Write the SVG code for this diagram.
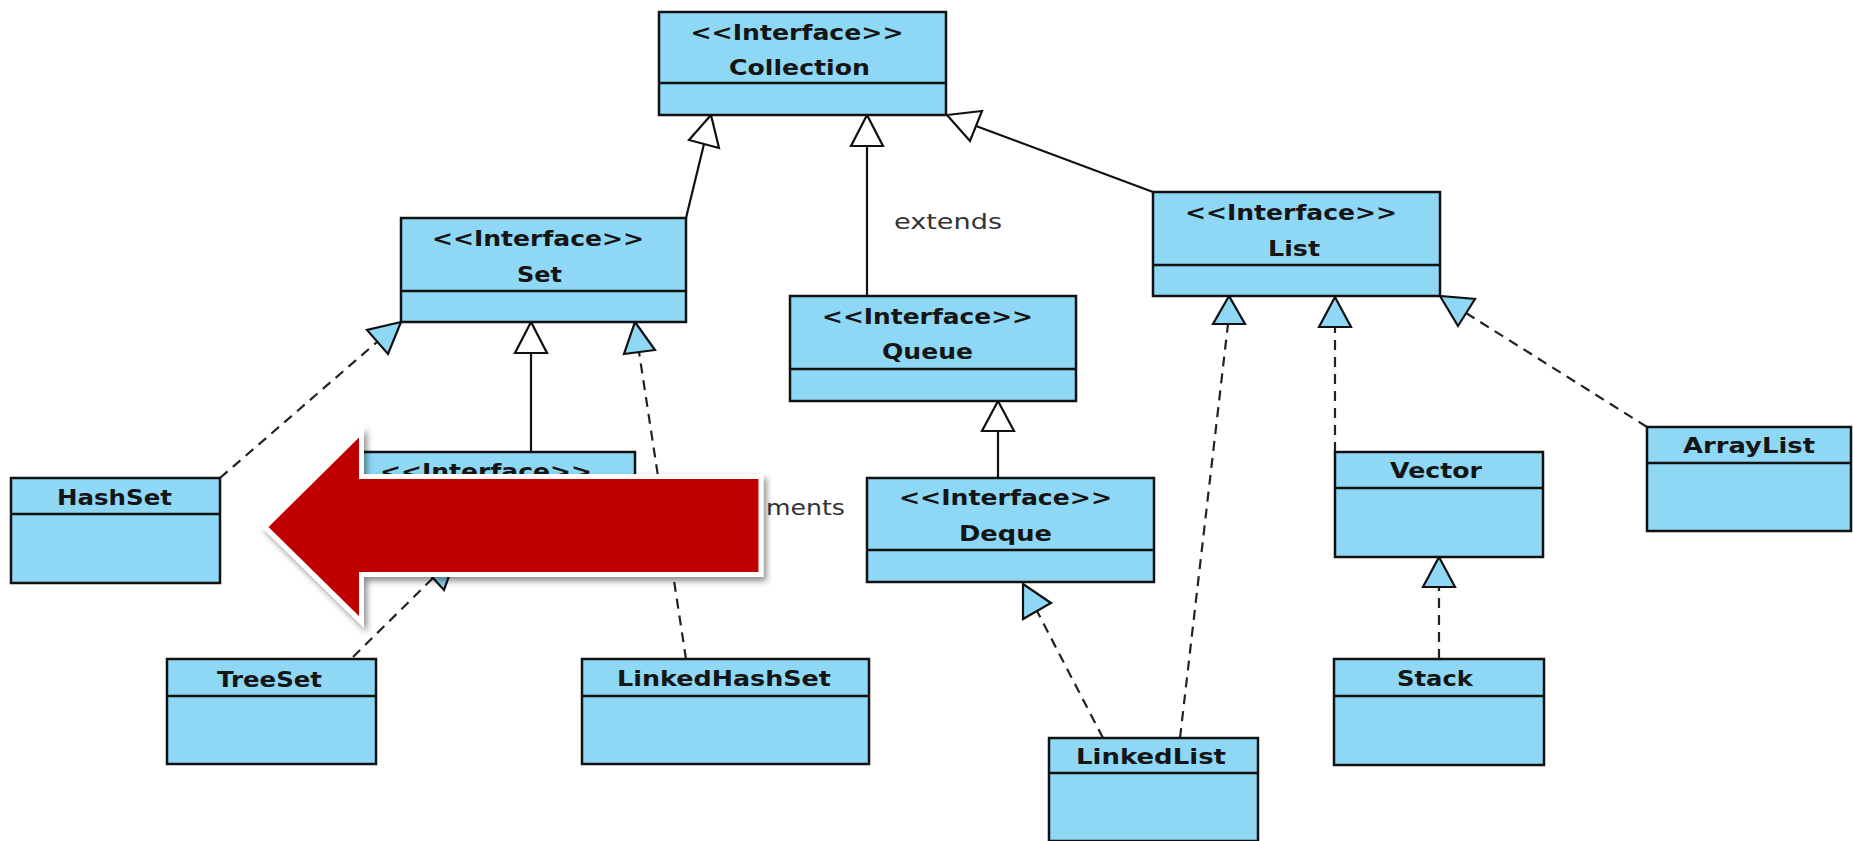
<svg xmlns="http://www.w3.org/2000/svg" width="1853" height="841" viewBox="0 0 1853 841">
<defs>
<style>
.box{fill:#8ED8F5;stroke:#111;stroke-width:2.5}
.div{stroke:#111;stroke-width:2.5}
.t{font-family:"DejaVu Sans","Liberation Sans",sans-serif;font-weight:bold;font-size:22px;fill:#151515;text-anchor:middle}
.lbl{font-family:"DejaVu Sans","Liberation Sans",sans-serif;font-size:22px;fill:#333}
.solid{stroke:#111;stroke-width:2.2;fill:none}
.dash{stroke:#222;stroke-width:2.2;fill:none;stroke-dasharray:10 7}
.hollow{fill:#fff;stroke:#111;stroke-width:2.2;stroke-linejoin:miter}
.filled{fill:#8ED8F5;stroke:#111;stroke-width:2.2;stroke-linejoin:miter}
</style>
<filter id="shadow" x="-10%" y="-20%" width="130%" height="150%">
<feDropShadow dx="3" dy="4" stdDeviation="3" flood-color="#000" flood-opacity="0.45"/>
</filter>
</defs>
<rect width="1853" height="841" fill="#fff"/>

<g id="connectors">
<line class="solid" x1="686" y1="218" x2="704" y2="144"/>
<polygon class="hollow" points="711,115 689,140 719,148"/>
<line class="solid" x1="867" y1="296" x2="867" y2="146"/>
<polygon class="hollow" points="867,115 851,146 883,146"/>
<line class="solid" x1="1153" y1="192" x2="976" y2="126"/>
<polygon class="hollow" points="947,115 970,141 982,111"/>
<line class="dash" x1="220" y1="478" x2="377" y2="342"/>
<polygon class="filled" points="401,322 388,354 367,330"/>
<line class="solid" x1="531" y1="452" x2="531" y2="353"/>
<polygon class="hollow" points="531,322 515,353 547,353"/>
<line class="dash" x1="686" y1="659" x2="639" y2="352"/>
<polygon class="filled" points="635,322 655,350 624,354"/>
<line class="solid" x1="998" y1="478" x2="998" y2="431"/>
<polygon class="hollow" points="998,401 982,431 1014,431"/>
<line class="dash" x1="1103" y1="738" x2="1037" y2="611"/>
<polygon class="filled" points="1023,584 1051,603 1023,619"/>
<line class="dash" x1="1180" y1="738" x2="1228" y2="324"/>
<polygon class="filled" points="1229,296 1213,324 1245,324"/>
<line class="dash" x1="1335" y1="452" x2="1335" y2="327"/>
<polygon class="filled" points="1335,297 1319,327 1351,327"/>
<line class="dash" x1="1647" y1="427" x2="1466" y2="313"/>
<polygon class="filled" points="1440,296 1458,326 1475,299"/>
<line class="dash" x1="1439" y1="659" x2="1439" y2="587"/>
<polygon class="filled" points="1439,557 1423,587 1455,587"/>
<line class="dash" x1="353" y1="657" x2="433" y2="578"/>
<polygon class="filled" points="456,557 444,590 422,566"/>
<text class="lbl" x="894" y="229" textLength="108" lengthAdjust="spacingAndGlyphs">extends</text>
<text class="lbl" x="766" y="515" textLength="79" lengthAdjust="spacingAndGlyphs">ments</text>
</g>

<g id="collection">
<rect class="box" x="659" y="12" width="287" height="103"/>
<line class="div" x1="659" y1="83" x2="946" y2="83"/>
<text class="t" x="797" y="40" textLength="213" lengthAdjust="spacingAndGlyphs">&lt;&lt;Interface&gt;&gt;</text>
<text class="t" x="799.5" y="75" textLength="141" lengthAdjust="spacingAndGlyphs">Collection</text>
</g>

<g id="set">
<rect class="box" x="401" y="218" width="285" height="104"/>
<line class="div" x1="401" y1="291" x2="686" y2="291"/>
<text class="t" x="538" y="246" textLength="212" lengthAdjust="spacingAndGlyphs">&lt;&lt;Interface&gt;&gt;</text>
<text class="t" x="539.5" y="282" textLength="45" lengthAdjust="spacingAndGlyphs">Set</text>
</g>

<g id="queue">
<rect class="box" x="790" y="296" width="286" height="105"/>
<line class="div" x1="790" y1="369" x2="1076" y2="369"/>
<text class="t" x="927.5" y="324" textLength="211" lengthAdjust="spacingAndGlyphs">&lt;&lt;Interface&gt;&gt;</text>
<text class="t" x="927.5" y="359" textLength="91" lengthAdjust="spacingAndGlyphs">Queue</text>
</g>

<g id="list">
<rect class="box" x="1153" y="192" width="287" height="104"/>
<line class="div" x1="1153" y1="265" x2="1440" y2="265"/>
<text class="t" x="1291" y="220" textLength="212" lengthAdjust="spacingAndGlyphs">&lt;&lt;Interface&gt;&gt;</text>
<text class="t" x="1294" y="256" textLength="52" lengthAdjust="spacingAndGlyphs">List</text>
</g>

<g id="deque">
<rect class="box" x="867" y="478" width="287" height="104"/>
<line class="div" x1="867" y1="550" x2="1154" y2="550"/>
<text class="t" x="1005.5" y="505" textLength="213" lengthAdjust="spacingAndGlyphs">&lt;&lt;Interface&gt;&gt;</text>
<text class="t" x="1005.5" y="541" textLength="93" lengthAdjust="spacingAndGlyphs">Deque</text>
</g>

<g id="sortedset">
<rect class="box" x="349" y="452" width="286" height="105"/>
<line class="div" x1="349" y1="524" x2="635" y2="524"/>
<text class="t" x="486" y="479" textLength="212" lengthAdjust="spacingAndGlyphs">&lt;&lt;Interface&gt;&gt;</text>
</g>

<g id="hashset">
<rect class="box" x="11" y="478" width="209" height="105"/>
<line class="div" x1="11" y1="514" x2="220" y2="514"/>
<text class="t" x="114.5" y="505" textLength="115" lengthAdjust="spacingAndGlyphs">HashSet</text>
</g>

<g id="treeset">
<rect class="box" x="167" y="659" width="209" height="105"/>
<line class="div" x1="167" y1="696" x2="376" y2="696"/>
<text class="t" x="269.5" y="687" textLength="105" lengthAdjust="spacingAndGlyphs">TreeSet</text>
</g>

<g id="linkedhashset">
<rect class="box" x="582" y="659" width="287" height="105"/>
<line class="div" x1="582" y1="696" x2="869" y2="696"/>
<text class="t" x="724" y="686" textLength="214" lengthAdjust="spacingAndGlyphs">LinkedHashSet</text>
</g>

<g id="linkedlist">
<rect class="box" x="1049" y="738" width="209" height="103"/>
<line class="div" x1="1049" y1="773" x2="1258" y2="773"/>
<text class="t" x="1151" y="764" textLength="150" lengthAdjust="spacingAndGlyphs">LinkedList</text>
</g>

<g id="vector">
<rect class="box" x="1335" y="452" width="208" height="105"/>
<line class="div" x1="1335" y1="488" x2="1543" y2="488"/>
<text class="t" x="1436" y="478" textLength="92" lengthAdjust="spacingAndGlyphs">Vector</text>
</g>

<g id="stack">
<rect class="box" x="1334" y="659" width="210" height="106"/>
<line class="div" x1="1334" y1="696" x2="1544" y2="696"/>
<text class="t" x="1435" y="686" textLength="76" lengthAdjust="spacingAndGlyphs">Stack</text>
</g>

<g id="arraylist">
<rect class="box" x="1647" y="427" width="204" height="104"/>
<line class="div" x1="1647" y1="463" x2="1851" y2="463"/>
<text class="t" x="1749" y="453" textLength="132" lengthAdjust="spacingAndGlyphs">ArrayList</text>
</g>

<g id="red-arrow">
<polygon points="761,476.5 361.5,476.5 361.5,431.5 265,527 361.5,622 361.5,574.5 761,574.5" fill="#C00000" stroke="#fff" stroke-width="5" stroke-linejoin="miter" filter="url(#shadow)"/>
</g>
</svg>
